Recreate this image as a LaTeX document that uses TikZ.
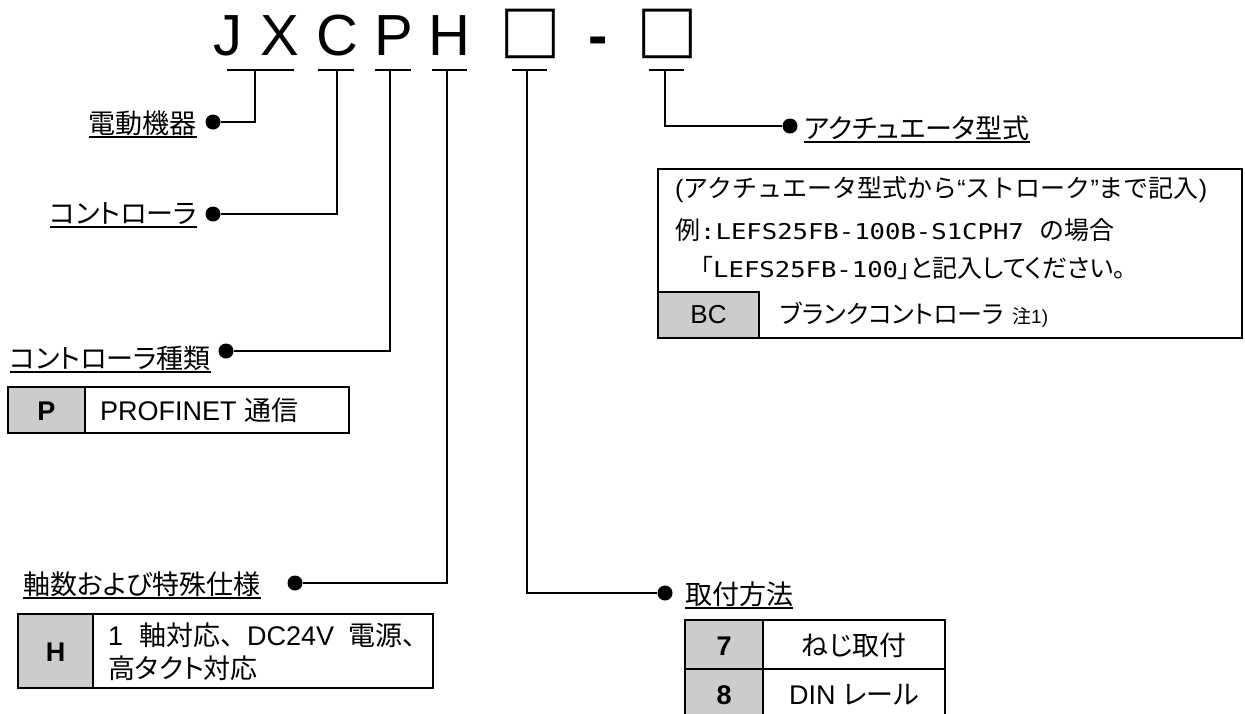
\documentclass[tikz,border=0pt]{standalone}
\usepackage{graphicx}
\usepackage{fontspec}
\setmainfont{Liberation Sans}
\newfontfamily\jp[RawFeature=+palt]{Noto Sans CJK JP}
\newfontfamily\jpf{Noto Sans CJK JP}
\newfontfamily\monofam{DejaVu Sans Mono}
\newcommand{\monotxt}[1]{\scalebox{1}[0.85]{\monofam #1}}
\definecolor{cellgray}{RGB}{204,204,204}
\begin{document}
\begin{tikzpicture}[x=1pt,y=-1pt,
  conn/.style={line width=2.6pt},
  tbar/.style={line width=2pt},
  uline/.style={line width=2pt},
  dotn/.style={circle,fill=black,inner sep=0pt,minimum size=15pt},
  lbl/.style={inner sep=0pt,font=\jp\fontsize{27}{27}\selectfont},
  ttl/.style={inner sep=0pt,anchor=base,font=\fontsize{58}{58}\selectfont},
  sq/.style={inner sep=0pt,font=\jpf\bfseries\fontsize{62}{62}\selectfont},
  tbl/.style={draw,line width=2.6pt},
  gry/.style={draw,line width=2.6pt,fill=cellgray},
  ctext/.style={inner sep=0pt,anchor=base,font=\fontsize{27}{27}\selectfont},
  bkey/.style={inner sep=0pt,anchor=base,font=\bfseries\fontsize{27}{27}\selectfont},
  btext/.style={inner sep=0pt,anchor=base west,font=\fontsize{25}{25}\selectfont},
]
\useasboundingbox (0,0) rectangle (1245,713);
\clip (0,0) rectangle (1245,713);
\fill[white] (0,0) rectangle (1245,713);

% title
\node[ttl] (tJ) at (228,55) {J};
\node[ttl] (tX) at (280,55) {X};
\node[ttl] (tC) at (337.5,55) {C};
\node[ttl] (tP) at (394,55) {P};
\node[ttl] (tH) at (449.5,55) {H};
\node[sq] (tB1) at (530,34) {□};
\node[ttl,font=\bfseries\fontsize{58}{58}\selectfont] (tD) at (598,55) {-};
\node[sq] (tB2) at (667,34) {□};

% T bars
\foreach \n/\a/\b/\c in {1/227/294/255, 2/318/354/337, 3/375/411/390, 4/432/467/447, 5/512/547/527, 6/649/684/665} {
  \coordinate (L\n) at (\a,70);
  \coordinate (R\n) at (\b,70);
  \coordinate (T\n) at (\c,70);
  \draw[tbar] (L\n) -- (R\n);
}

% dots
\node[dotn] (d1) at (213,122) {};
\node[dotn] (d2) at (213,214) {};
\node[dotn] (d3) at (226,351) {};
\node[dotn] (d4) at (295,583) {};
\node[dotn] (d5) at (665,593) {};
\node[dotn] (d6) at (790,126) {};
\foreach \n in {1,...,6} { \draw[conn] (T\n) |- (d\n); }

% labels
\node[lbl,anchor=base east] (l1) at (197,133) {電動機器};
\node[lbl,anchor=base east] (l2) at (197,223) {コントローラ};
\node[lbl,anchor=base west] (l3) at (10,368) {コントローラ種類};
\node[lbl,anchor=base west] (l4) at (23,594) {軸数および特殊仕様};
\node[lbl,anchor=base west] (l5) at (685,604) {取付方法};
\node[lbl,anchor=base west] (l6) at (804,138) {アクチュエータ型式};
\foreach \n in {1,...,6} { \draw[uline] ([yshift=-4pt]l\n.base west) -- ([yshift=-4pt]l\n.base east); }

% P table
\draw[gry] (8,387) rectangle (85,433);
\draw[tbl] (85,387) rectangle (349,433);
\node[bkey] (pk) at (46.5,420) {P};
\node[ctext,anchor=base west] (pv) at (100,420) {PROFINET {\jpf 通信}};

% H table
\draw[gry] (18,614) rectangle (93,688);
\draw[tbl] (93,614) rectangle (433,688);
\node[bkey] (hk) at (55.5,661) {H};
\node[ctext,anchor=base west] (hv1) at (108,645) {1\hspace{16pt}{\jp 軸対応}{\jpf 、}DC24V\hspace{14pt}{\jp 電源}{\jpf 、}};
\node[ctext,anchor=base west] (hv2) at (108,678) {\jp 高タクト対応};

% mounting table
\draw[gry] (685,620) rectangle (763,669);
\draw[gry] (685,669) rectangle (763,722);
\draw[tbl] (763,620) rectangle (945,669);
\draw[tbl] (763,669) rectangle (945,722);
\node[bkey] (k7) at (724,655) {7};
\node[bkey] (k8) at (724,704) {8};
\node[ctext] (v7) at (854,655) {\jp ねじ取付};
\node[ctext] (v8) at (854,704) {DIN {\jp レール}};

% actuator box
\draw[tbl] (658,169) rectangle (1242,338);
\draw[gry] (658,292) rectangle (759,338);
\node[btext] (a1) at (675,197) {({\jpf アクチュエータ型式から}“{\jpf ストローク}”{\jpf まで記入})};
\node[btext] (a2) at (675,239) {{\jpf 例}\monotxt{\fontsize{25.6}{25.6}\selectfont :LEFS25FB-100B-S1CPH7 }{\jpf の場合}};
\node[btext] (a3) at (688,277) {{\jpf 「}\monotxt{\fontsize{25.6}{25.6}\selectfont LEFS25FB-100}{\jp 」と記入してください。}};
\node[btext,anchor=base,font=\fontsize{26}{26}\selectfont] (bc) at (708.5,323) {BC};
\node[btext] (bcv) at (780,323) {{\jp ブランクコントローラ}\hspace{8pt}{\jp\fontsize{19}{19}\selectfont 注}{\fontsize{19}{19}\selectfont 1)}};
\end{tikzpicture}
\end{document}
